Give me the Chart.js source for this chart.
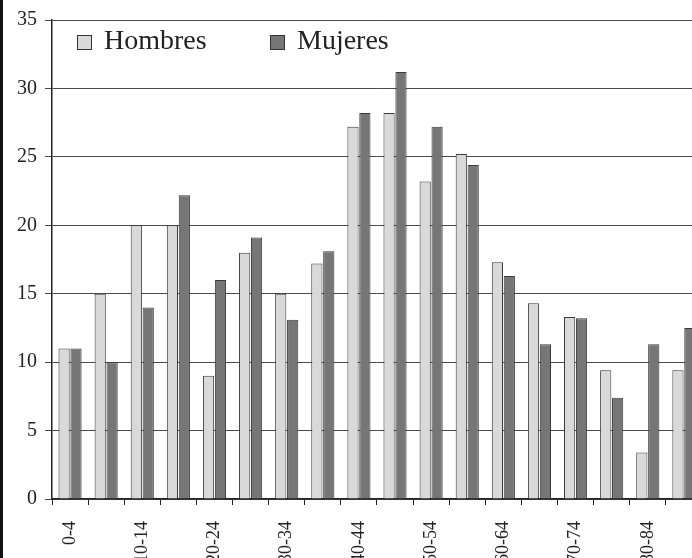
<!DOCTYPE html>
<html>
<head>
<meta charset="utf-8">
<script src="https://cdn.jsdelivr.net/npm/chart.js@4.4.0/dist/chart.umd.min.js"></script>
<style>
    html, body { margin: 0; padding: 0; background: #fff; overflow: hidden; }
    #wrap { position: relative; width: 692px; height: 558px; overflow: hidden; border-left: 3px solid #111; box-sizing: border-box; }
    #chart-box { position: absolute; left: -3px; top: 0; width: 722px; height: 592px; }
</style>
</head>
<body>
<div id="wrap">
    <div id="chart-box"><canvas id="ageChart"></canvas></div>
</div>
<script>
const ageGroups = ["0-4", "5-9", "10-14", "15-19", "20-24", "25-29", "30-34", "35-39", "40-44",
    "45-49", "50-54", "55-59", "60-64", "65-69", "70-74", "75-79", "80-84", "85+"];
const hombres = [11, 15, 20, 20, 9, 18, 15, 17.2, 27.2, 28.2, 23.2, 25.2, 17.3, 14.3, 13.3, 9.4, 3.4, 9.4];
const mujeres = [11, 10, 14, 22.2, 16, 19.1, 13.1, 18.1, 28.2, 31.2, 27.2, 24.4, 16.3, 11.3, 13.2, 7.4, 11.3, 12.5];
const yTicks = [0, 5, 10, 15, 20, 25, 30, 35];

const serif = "'Liberation Serif', 'DejaVu Serif', serif";

// legend drawn inside the plot, like the scanned original
const insideLegend = {
    id: "insideLegend",
    afterDraw(chart) {
        const ctx = chart.ctx;
        const spots = [77, 270];
        ctx.save();
        ctx.font = "28px " + serif;
        ctx.textBaseline = "middle";
        chart.data.datasets.forEach((ds, i) => {
            const x = spots[i];
            const y = 42;
            ctx.fillStyle = ds.backgroundColor;
            ctx.strokeStyle = "#333";
            ctx.lineWidth = 1;
            ctx.fillRect(x, y - 7, 15, 15);
            ctx.strokeRect(x + 0.5, y - 6.5, 14, 14);
            ctx.fillStyle = "#222";
            ctx.fillText(ds.label, x + 27, y);
        });
        ctx.restore();
    }
};

new Chart(document.getElementById("ageChart"), {
    type: "bar",
    data: {
        labels: ageGroups,
        datasets: [{
            label: "Hombres",
            data: hombres,
            backgroundColor: "#d9d9d9",
            borderColor: "#3a3a3a",
            borderWidth: 1,
            barPercentage: 0.94,
            categoryPercentage: 0.66
        }, {
            label: "Mujeres",
            data: mujeres,
            backgroundColor: "#767676",
            borderColor: "#3a3a3a",
            borderWidth: 1,
            barPercentage: 0.94,
            categoryPercentage: 0.66
        }]
    },
    options: {
        responsive: true,
        maintainAspectRatio: false,
        animation: false,
        layout: { padding: { top: 16, right: 18, left: 0, bottom: 0 } },
        plugins: {
            legend: { display: false },
            tooltip: { enabled: false }
        },
        scales: {
            x: {
                grid: { drawOnChartArea: false, color: "#222", tickLength: 6, offset: true },
                border: { color: "#222", width: 1.5 },
                ticks: {
                    autoSkip: false,
                    minRotation: 90,
                    maxRotation: 90,
                    padding: 16,
                    color: "#222",
                    font: { family: serif, size: 18 },
                    callback: function (value, index) {
                        return index % 2 === 0 ? ageGroups[index] : "";
                    }
                },
                afterFit: scale => { scale.height = 93; }
            },
            y: {
                min: 0,
                max: 35,
                afterBuildTicks: scale => { scale.ticks = yTicks.map(v => ({ value: v })); },
                grid: { color: "#4a4a4a", lineWidth: 1, tickLength: 7 },
                border: { color: "#222", width: 1.5 },
                ticks: {
                    padding: 8,
                    color: "#222",
                    font: { family: serif, size: 20 }
                },
                afterFit: scale => { scale.width = 52; }
            }
        }
    },
    plugins: [insideLegend]
});
</script>
</body>
</html>
